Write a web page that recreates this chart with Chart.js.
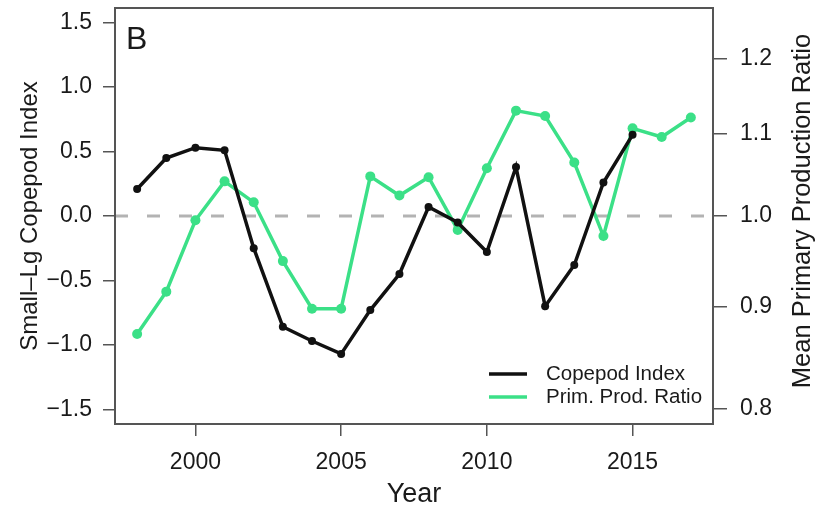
<!DOCTYPE html>
<html>
<head>
<meta charset="utf-8">
<script src="https://cdn.jsdelivr.net/npm/chart.js@4.4.0/dist/chart.umd.min.js"></script>
<style>
html, body { margin: 0; padding: 0; background: #fff; }
#wrap { width: 826px; height: 511px; }
</style>
</head>
<body>
<div id="wrap"><canvas id="chart" width="826" height="511"></canvas></div>
<script>
// data
const years = [1998, 1999, 2000, 2001, 2002, 2003, 2004, 2005, 2006, 2007,
               2008, 2009, 2010, 2011, 2012, 2013, 2014, 2015, 2016, 2017];
const copepodIndex = [0.21, 0.45, 0.53, 0.51, -0.25, -0.86, -0.97, -1.07, -0.73, -0.45,
                      0.07, -0.05, -0.28, 0.38, -0.70, -0.38, 0.26, 0.63];
const primProdRatio = [0.872, 0.916, 0.995, 1.041, 1.016, 0.949, 0.898, 0.898, 1.047, 1.024,
                       1.046, 0.984, 1.057, 1.130, 1.123, 1.064, 0.977, 1.107, 1.096, 1.121];
const yearTicks = [2000, 2005, 2010, 2015];
const indexTicks = [-1.5, -1, -0.5, 0, 0.5, 1, 1.5];
const ratioTicks = [0.8, 0.9, 1.0, 1.1, 1.2];

const GREEN = '#3be087';
const AXIS = '#555';
const TEXT = '#1a1a1a';

Chart.defaults.font.family = "'Liberation Sans', Arial, sans-serif";
Chart.defaults.color = TEXT;

function fixSize(prop, size) {
    return function(scale){
        scale[prop] = size;
        scale.paddingTop = 0; scale.paddingBottom = 0;
        scale.paddingLeft = 0; scale.paddingRight = 0;
    }
}

const extras = {
    id: 'extras',
    beforeDatasetsDraw(chart){
        const {ctx, chartArea: a, scales} = chart;
        const y0 = scales.y.getPixelForValue(0);
        ctx.save();
        ctx.strokeStyle = '#b3b3b3';
        ctx.lineWidth = 3;
        ctx.setLineDash([13, 19]);
        ctx.beginPath();
        ctx.moveTo(a.left, y0);
        ctx.lineTo(a.right, y0);
        ctx.stroke();
        ctx.restore();
    },
    afterDraw(chart){
        const {ctx, chartArea: a} = chart;
        ctx.save();
        // frame
        ctx.strokeStyle = AXIS;
        ctx.lineWidth = 2;
        ctx.strokeRect(a.left, a.top, a.right - a.left, a.bottom - a.top);

        // panel letter
        ctx.fillStyle = TEXT;
        ctx.font = "32px 'Liberation Sans', Arial, sans-serif";
        ctx.textAlign = 'left';
        ctx.textBaseline = 'alphabetic';
        ctx.fillText('B', a.left + 11, a.top + 41);

        // legend
        const items = [['Copepod Index', '#111'], ['Prim. Prod. Ratio', GREEN]];
        ctx.font = "20.5px 'Liberation Sans', Arial, sans-serif";
        ctx.textBaseline = 'middle';
        items.forEach(function(it, i){
            const y = a.bottom - 50 + i * 23;
            ctx.strokeStyle = it[1];
            ctx.lineWidth = 3.5;
            ctx.beginPath();
            ctx.moveTo(a.right - 224, y);
            ctx.lineTo(a.right - 186, y);
            ctx.stroke();
            ctx.fillStyle = TEXT;
            ctx.fillText(it[0], a.right - 167, y);
        });

        // right axis title, reading upward
        ctx.translate(chart.width - 23, (a.top + a.bottom) / 2 - 5);
        ctx.rotate(-Math.PI / 2);
        ctx.textAlign = 'center';
        ctx.font = "25.5px 'Liberation Sans', Arial, sans-serif";
        ctx.fillText('Mean Primary Production Ratio', 0, 0);
        ctx.restore();
    }
};

new Chart(document.getElementById('chart'), {
    type: 'line',
    data: {
        datasets: [{
            label: 'Copepod Index',
            data: copepodIndex.map(function(v, i){ return {x: years[i], y: v}; }),
            yAxisID: 'y',
            borderColor: '#111',
            backgroundColor: '#111',
            borderWidth: 3.5,
            pointRadius: 4,
            pointBorderWidth: 0,
            tension: 0
        }, {
            label: 'Prim. Prod. Ratio',
            data: primProdRatio.map(function(v, i){ return {x: years[i], y: v}; }),
            yAxisID: 'y2',
            borderColor: GREEN,
            backgroundColor: GREEN,
            borderWidth: 3.5,
            pointRadius: 5,
            pointBorderWidth: 0,
            tension: 0
        }]
    },
    options: {
        responsive: false,
        animation: false,
        devicePixelRatio: 1,
        layout: { padding: { top: 8, left: 0, right: 0, bottom: 0 } },
        plugins: { legend: { display: false }, tooltip: { enabled: false } },
        scales: {
            x: {
                type: 'linear',
                min: 1997.24,
                max: 2017.76,
                afterBuildTicks: function(s){ s.ticks = yearTicks.map(function(v){ return {value: v}; }); },
                afterFit: fixSize('height', 87),
                grid: { drawOnChartArea: false, drawTicks: true, tickLength: 12, color: AXIS, lineWidth: 1.5 },
                border: { display: false },
                ticks: { font: { size: 23 }, padding: 13, maxRotation: 0, callback: function(v){ return String(v); } },
                title: { display: true, text: 'Year', font: { size: 27 }, padding: { top: 0, bottom: 0 } }
            },
            y: {
                type: 'linear',
                position: 'left',
                min: -1.614,
                max: 1.614,
                afterBuildTicks: function(s){ s.ticks = indexTicks.map(function(v){ return {value: v}; }); },
                afterFit: fixSize('width', 115),
                grid: { drawOnChartArea: false, drawTicks: true, tickLength: 12, color: AXIS, lineWidth: 1.5 },
                border: { display: false },
                ticks: {
                    font: { size: 23 }, padding: 11,
                    callback: function(v){ return (v < 0 ? '\u2212' : '') + Math.abs(v).toFixed(1); }
                },
                title: { display: true, text: 'Small\u2013Lg Copepod Index', font: { size: 24 }, padding: { top: 16, bottom: 0 } }
            },
            y2: {
                type: 'logarithmic',
                position: 'right',
                min: 0.7856,
                max: 1.2729,
                afterBuildTicks: function(s){ s.ticks = ratioTicks.map(function(v){ return {value: v}; }); },
                afterFit: fixSize('width', 113),
                grid: { drawOnChartArea: false, drawTicks: true, tickLength: 14, color: AXIS, lineWidth: 1.5 },
                border: { display: false },
                ticks: { font: { size: 23 }, padding: 13, callback: function(v){ return Number(v).toFixed(1); } }
            }
        }
    },
    plugins: [extras]
});
</script>
</body>
</html>
